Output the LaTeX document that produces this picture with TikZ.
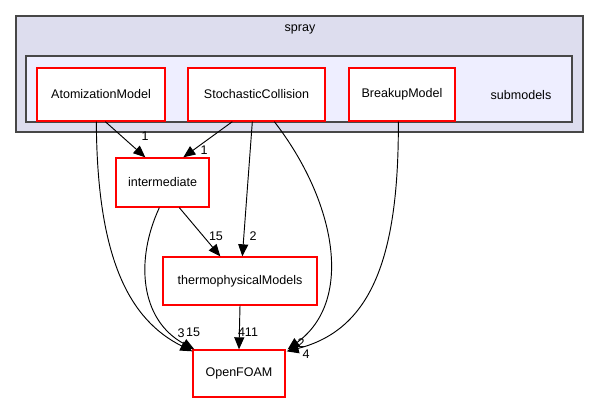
\documentclass[tikz,border=0pt]{standalone}
\usepackage{fontspec}
\setmainfont{Liberation Sans}
\usetikzlibrary{arrows.meta,calc}
\begin{document}
\begin{tikzpicture}[x=0.75pt,y=-0.75pt,
  every node/.style={font=\fontsize{9.4}{11}\selectfont},
  dir/.style={draw=red, fill=white, line width=1pt, inner sep=0pt},
  lbl/.style={inner sep=0pt, font=\fontsize{9.4}{11}\selectfont},
  dep/.style={draw=black, line width=0.7pt, -{Triangle[length=9pt,width=7.5pt]}}
]
\useasboundingbox (0,0) rectangle (600,404);
% clusters
\node[draw=black!72, fill={rgb,255:red,221;green,221;blue,238}, line width=1.2pt, minimum width=567*0.75pt, minimum height=116*0.75pt, inner sep=0pt] (spray) at (299.5,74) {};
\node (spraylbl) at (300,29) {spray};
\node[draw=black!72, fill={rgb,255:red,238;green,238;blue,255}, line width=1.2pt, minimum width=546*0.75pt, minimum height=66*0.75pt, inner sep=0pt] (sub) at (299,89) {};
\node (sublbl) at (521,95) {submodels};
% nodes
\node[dir, minimum width=128*0.75pt, minimum height=53*0.75pt] (A) at (101,94.5) {AtomizationModel};
\node[dir, minimum width=137*0.75pt, minimum height=53*0.75pt] (S) at (256.5,94.5) {StochasticCollision};
\node[dir, minimum width=106*0.75pt, minimum height=53*0.75pt] (B) at (402,94.5) {BreakupModel};
\node[dir, minimum width=93*0.75pt, minimum height=49*0.75pt] (I) at (162.5,182.5) {intermediate};
\node[dir, minimum width=154*0.75pt, minimum height=48*0.75pt] (T) at (240,281) {thermophysicalModels};
\node[dir, minimum width=92*0.75pt, minimum height=47*0.75pt] (O) at (239,373.5) {OpenFOAM};
% edges
\draw[dep] ($(A.south west)+(69,0)$) -- ($(I.north west)+(30,0)$) node[lbl] at (145,136) {1};
\draw[dep] ($(S.south west)+(45,0)$) -- ($(I.north west)+(68,0)$) node[lbl] at (204,150) {1};
\draw[dep] ($(S.south west)+(65,0)$) -- ($(T.north west)+(80,0)$) node[lbl] at (253,236) {2};
\draw[dep] ($(I.south west)+(64,0)$) -- ($(T.north west)+(58,0)$) node[lbl] at (216,236) {15};
\draw[dep] (T.south) -- (O.north) node[lbl] at (248,332) {411};
\draw[dep] ($(A.south west)+(60,0)$) .. controls (97,260) and (130,320) .. ($(O.north west)+(0,2)$) node[lbl] at (181,333) {3};
\draw[dep] ($(I.south west)+(44,0)$) .. controls (135,260) and (140,320) .. ($(O.north west)+(2,0)$) node[lbl] at (193,332) {15};
\draw[dep] ($(S.south west)+(87,0)$) .. controls (335,200) and (355,300) .. ($(O.north east)+(2,0)$) node[lbl] at (301,343) {2};
\draw[dep] ($(B.south west)+(50,0)$) .. controls (399,260) and (370,330) .. ($(O.north east)+(1,2)$) node[lbl] at (306,354) {4};
\end{tikzpicture}
\end{document}
